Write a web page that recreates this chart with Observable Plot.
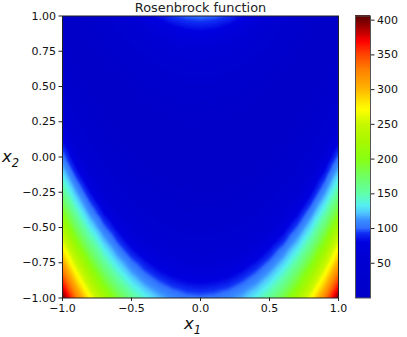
<!DOCTYPE html>
<html><head><meta charset="utf-8">
<script src="https://cdn.jsdelivr.net/npm/d3@7"></script>
<script src="https://cdn.jsdelivr.net/npm/@observablehq/plot@0.6"></script>
<style>
html,body{margin:0;padding:0;background:#fff}
#c{position:relative;width:407px;height:337px;display:flex;overflow:hidden}
svg{display:block}
.ax{position:absolute;font:italic 16.5px/1 'DejaVu Sans';color:#111;white-space:nowrap}
.ax span{font-size:11.5px;line-height:0;vertical-align:-4.5px}
</style></head><body><div id="c"></div>
<script>
const titleText = "Rosenbrock function";
const axisSymbol = "x";
const x1Sub = "1";
const x2Sub = "2";
const x1Grid = [-1,-0.9,-0.8,-0.7,-0.6,-0.5,-0.4,-0.3,-0.2,-0.1,0,0.1,0.2,0.3,0.4,0.5,0.6,0.7,0.8,0.9,1];
const x2Grid = [1,0.9,0.8,0.7,0.6,0.5,0.4,0.3,0.2,0.1,0,-0.1,-0.2,-0.3,-0.4,-0.5,-0.6,-0.7,-0.8,-0.9,-1];
// one column per x1 value, top (x2 = 1) to bottom (x2 = -1)
const fColumns = [
[4,5,8,13,20,29,40,53,68,85,104,125,148,173,200,229,260,293,328,365,404],
[7,4,4,5,8,13,20,30,41,54,69,86,106,127,150,175,202,232,263,296,331],
[16,10,6,4,3,5,9,15,23,32,44,58,74,92,111,133,157,183,211,240,272],
[29,20,12,7,4,3,4,6,11,18,27,38,50,65,82,101,122,144,169,196,225],
[44,32,22,14,8,5,3,3,5,9,16,24,34,46,60,77,95,115,137,161,188],
[59,44,32,22,14,8,5,3,3,5,8,14,22,32,44,58,74,92,112,134,158],
[73,57,43,31,21,14,8,4,2,2,5,9,15,23,33,46,60,76,94,114,137],
[85,67,52,39,28,18,11,6,3,2,2,5,10,17,26,36,49,64,81,100,121],
[94,75,59,45,33,23,14,8,4,2,2,3,7,13,21,31,42,56,72,90,110],
[99,80,64,49,36,25,16,10,5,2,1,2,6,11,18,27,38,52,67,84,103],
[101,82,65,50,37,26,17,10,5,2,1,2,5,10,17,26,37,50,65,82,101],
[99,80,63,48,36,25,16,9,4,2,1,2,5,10,18,27,38,51,66,84,103],
[93,75,58,44,32,22,14,7,3,1,1,3,6,12,20,30,42,55,71,89,109],
[83,66,51,38,27,17,10,5,2,1,1,4,9,16,25,35,48,63,80,99,119],
[71,55,41,30,20,12,6,2,1,1,3,7,13,22,32,44,58,74,93,113,135],
[57,43,31,21,13,7,3,1,1,3,7,13,21,31,43,57,73,91,111,133,157],
[41,29,20,12,6,2,0,1,3,7,13,21,32,44,58,74,92,113,135,159,185],
[26,17,10,5,1,0,1,4,9,15,24,35,48,63,79,98,119,142,167,193,222],
[13,7,3,0,0,2,6,12,19,29,41,55,71,88,108,130,154,180,207,237,269],
[4,1,0,1,4,10,17,26,37,50,66,83,102,123,146,172,199,228,259,292,328],
[0,1,4,9,16,25,36,49,64,81,100,121,144,169,196,225,256,289,324,361,400]
];
const xTicks = [-1,-0.5,0,0.5,1];
const yTicks = [-1,-0.75,-0.5,-0.25,0,0.25,0.5,0.75,1];
const barTicks = [50,100,150,200,250,300,350,400];
const colorStops = [0,60,80,93,100,112,122,133,150,175,200,225,250,270,281,302,328,351,369,382,404];
const colorValues = ["#0000c8","#0000d4","#0000e0","#1030f5","#3070ff","#3a90ff","#50c8ff","#55f0f0","#60ffa8","#70ff60","#88ff10","#a8f800","#c8f800","#ffff00","#ffe800","#ffb000","#ff8000","#ff4000","#ff0000","#c00000","#600000"];
const barLevels = d3.range(0,406,1);

const cells = fColumns.flatMap((col,i)=>col.map((f,j)=>({x1:x1Grid[i],x2:x2Grid[j],f})));
const color = {type:"linear",domain:colorStops,range:colorValues,interpolate:"rgb"};
const font = "'DejaVu Sans'";
const ink = "#222";

const main = Plot.plot({
  width:345,height:337,marginLeft:62,marginRight:7,marginTop:15.5,marginBottom:39.5,
  style:{fontFamily:font,fontSize:"11px",color:"#111",background:"transparent",overflow:"visible"},
  x:{domain:[-1,1]},y:{domain:[-1,1]},color,
  marks:[
    Plot.raster(cells,{x:"x1",y:"x2",fill:"f",x1:-1,x2:1,y1:-1,y2:1,interpolate:"barycentric",pixelSize:1}),
    Plot.frame({stroke:ink,strokeWidth:1}),
    Plot.axisX({ticks:xTicks,tickFormat:d3.format(".1f"),tickSize:3.5,tickPadding:3,label:null,stroke:ink}),
    Plot.axisY({ticks:yTicks,tickFormat:d3.format(".2f"),tickSize:3.5,tickPadding:3,label:null,stroke:ink}),
    Plot.text([titleText],{frameAnchor:"top",dy:-8.5,lineAnchor:"middle",fontSize:12.9,fill:"#222"})
  ]
});
const bar = Plot.plot({
  width:62,height:337,marginLeft:10,marginRight:37,marginTop:15.5,marginBottom:39.5,
  style:{fontFamily:font,fontSize:"11px",color:"#111",background:"transparent",overflow:"visible"},
  x:{domain:[0,1],axis:null},y:{domain:[0,406]},color,
  marks:[
    Plot.rect(barLevels,{x1:0,x2:1,y1:d=>d,y2:d=>d+1.6,fill:d=>d+0.5,shapeRendering:"crispEdges"}),
    Plot.frame({stroke:"#555",strokeWidth:1}),
    Plot.axisY({anchor:"right",ticks:barTicks,tickSize:3.5,tickPadding:3,label:null,stroke:ink})
  ]
});
const box = document.getElementById("c");
box.append(main,bar);
function axisLabel(sub,left,top){
  const el=document.createElement("div");el.className="ax";el.style.left=left+"px";el.style.top=top+"px";
  el.textContent=axisSymbol;
  const s=document.createElement("span");s.textContent=sub;el.append(s);box.append(el);
}
axisLabel(x1Sub,184,316);
axisLabel(x2Sub,2,149);
</script></body></html>
